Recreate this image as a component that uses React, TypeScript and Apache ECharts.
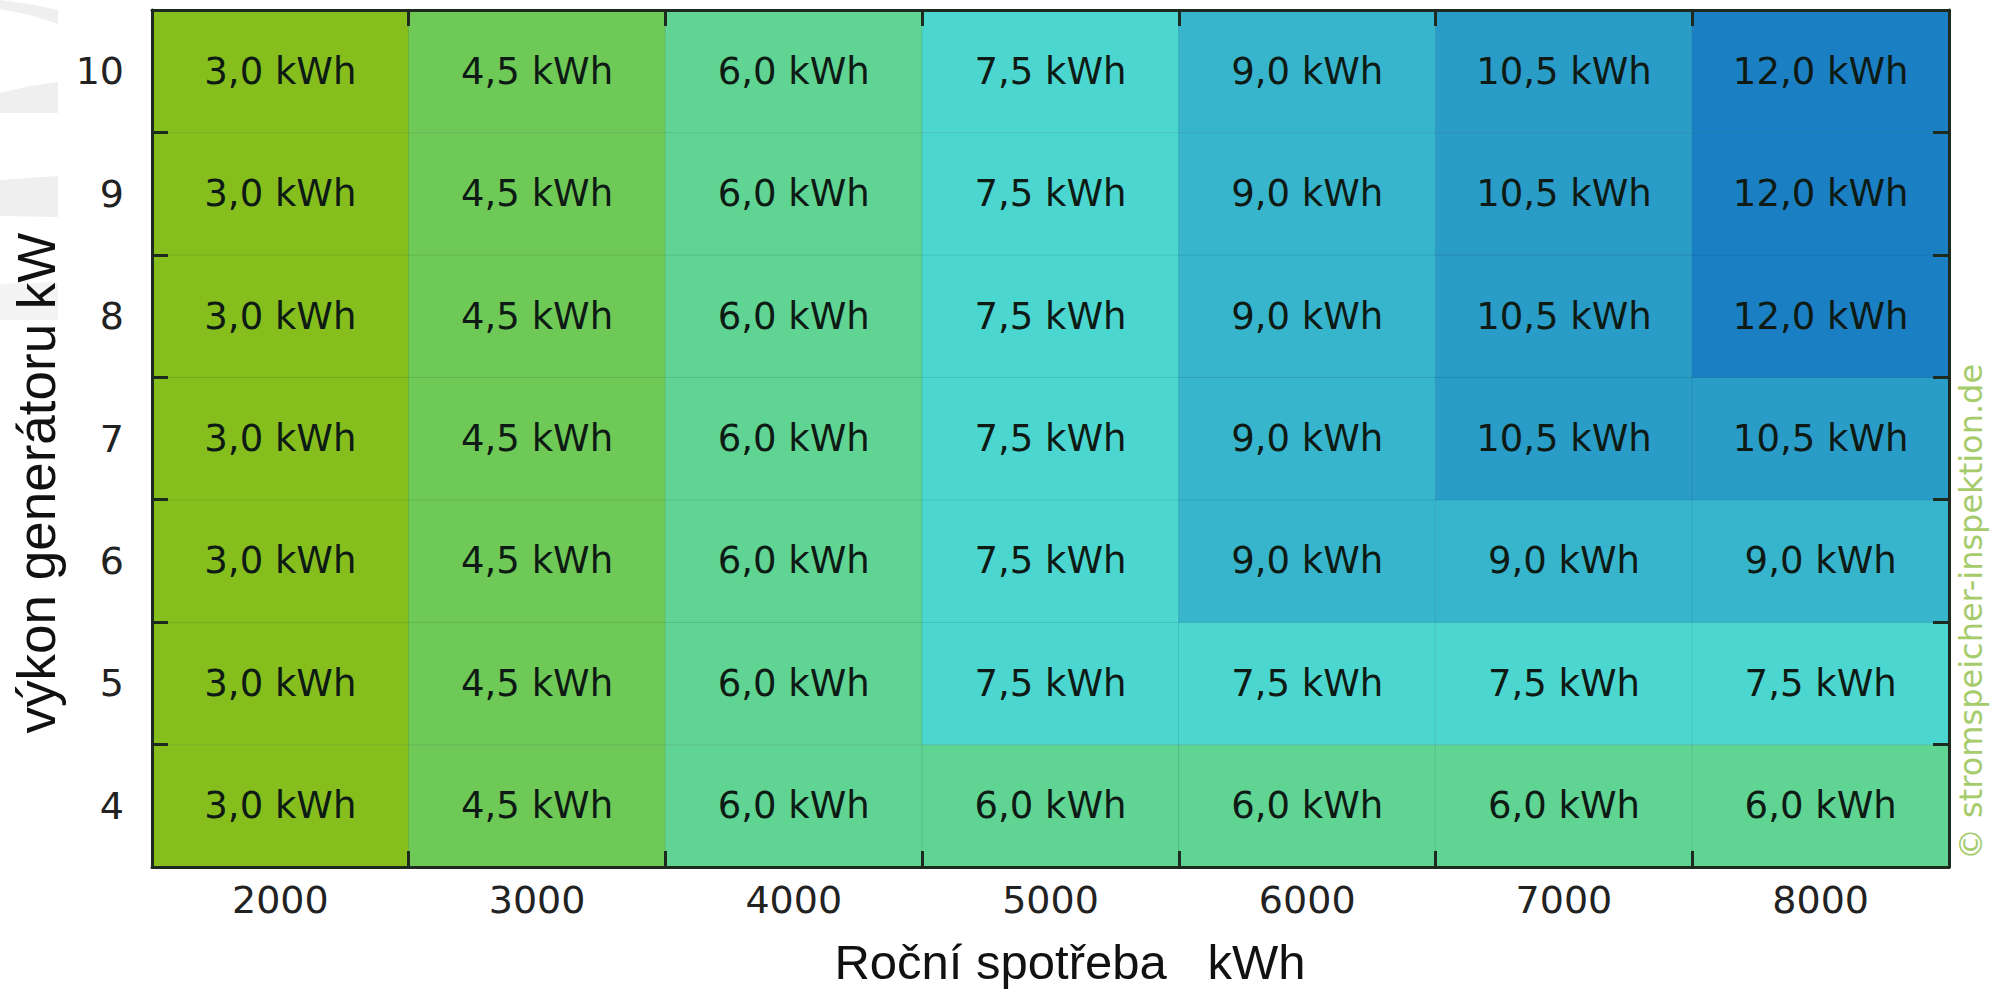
import React, { useEffect, useRef } from "react";
import * as echarts from "echarts";

// Annual consumption (kWh) columns and generator power (kW) rows
const consumption = ["2000", "3000", "4000", "5000", "6000", "7000", "8000"];
const generatorPower = ["4", "5", "6", "7", "8", "9", "10"];

// Recommended storage capacity (kWh), one array per generator power row
const row4 = [3.0, 4.5, 6.0, 6.0, 6.0, 6.0, 6.0];
const row5 = [3.0, 4.5, 6.0, 7.5, 7.5, 7.5, 7.5];
const row6 = [3.0, 4.5, 6.0, 7.5, 9.0, 9.0, 9.0];
const row7 = [3.0, 4.5, 6.0, 7.5, 9.0, 10.5, 10.5];
const row8 = [3.0, 4.5, 6.0, 7.5, 9.0, 10.5, 12.0];
const row9 = [3.0, 4.5, 6.0, 7.5, 9.0, 10.5, 12.0];
const row10 = [3.0, 4.5, 6.0, 7.5, 9.0, 10.5, 12.0];
const rows = [row4, row5, row6, row7, row8, row9, row10];

// Capacity steps and their fill colours
const capacitySteps = [3.0, 4.5, 6.0, 7.5, 9.0, 10.5, 12.0];
const stepColors = ["#86bf1d", "#6fc957", "#5fd493", "#4bd7d0", "#37b5cd", "#2a9cc8", "#1b7fc3"];

const AXIS_COLOR = "#1c2a20";
const LABEL_FONT = "DejaVu Sans, Verdana, sans-serif";

export default function App() {
  const ref = useRef<HTMLDivElement>(null);

  useEffect(() => {
    if (!ref.current) return;
    const chart = echarts.init(ref.current, undefined, { renderer: "svg" });

    const cells: [number, number, number][] = [];
    rows.forEach((row, yi) => row.forEach((v, xi) => cells.push([xi, yi, v])));

    const axisLine = { show: true, lineStyle: { color: AXIS_COLOR, width: 3 } };
    const axisTick = { show: true, inside: true, length: 16, lineStyle: { color: AXIS_COLOR, width: 3 } };

    chart.setOption({
      animation: false,
      backgroundColor: "#ffffff",
      grid: { left: 152, right: 44, top: 10, bottom: 126, containLabel: false },
      xAxis: [
        {
          type: "category",
          data: consumption,
          position: "bottom",
          z: 10,
          axisLine,
          axisTick,
          axisLabel: { color: "#222222", fontFamily: LABEL_FONT, fontSize: 38, margin: 14 },
          splitLine: { show: false },
        },
        {
          type: "category",
          data: consumption,
          position: "top",
          z: 10,
          axisLine,
          axisTick,
          axisLabel: { show: false },
          splitLine: { show: false },
        },
      ],
      yAxis: [
        {
          type: "category",
          data: generatorPower,
          position: "left",
          z: 10,
          axisLine,
          axisTick,
          axisLabel: { color: "#222222", fontFamily: LABEL_FONT, fontSize: 38, margin: 28 },
          splitLine: { show: false },
        },
        {
          type: "category",
          data: generatorPower,
          position: "right",
          z: 10,
          axisLine,
          axisTick,
          axisLabel: { show: false },
          splitLine: { show: false },
        },
      ],
      visualMap: {
        type: "piecewise",
        show: false,
        dimension: 2,
        pieces: capacitySteps.map((v, i) => ({ value: v, color: stepColors[i] })),
      },
      series: [
        {
          type: "heatmap",
          xAxisIndex: 0,
          yAxisIndex: 0,
          data: cells,
          itemStyle: { borderColor: "rgba(0,40,40,0.10)", borderWidth: 1 },
          label: {
            show: true,
            color: "#0e1a14",
            fontFamily: LABEL_FONT,
            fontSize: 37,
            formatter: (p: any) => p.value[2].toFixed(1).replace(".", ",") + " kWh",
          },
          emphasis: { disabled: true },
        },
      ],
      graphic: [
        // faint grey swooshes at the left edge
        { type: "polygon", z: -1, shape: { points: [[0, 0], [30, 4], [58, 10], [58, 24], [30, 15], [0, 9]] }, style: { fill: "#efefef" } },
        { type: "polygon", z: -1, shape: { points: [[0, 93], [30, 86], [58, 82], [58, 113], [30, 113], [0, 113]] }, style: { fill: "#efefef" } },
        { type: "polygon", z: -1, shape: { points: [[0, 180], [58, 176], [58, 217], [0, 216]] }, style: { fill: "#efefef" } },
        { type: "polygon", z: -1, shape: { points: [[0, 284], [58, 282], [58, 320], [0, 320]] }, style: { fill: "#f4f4f4" } },
        {
          type: "text",
          x: 1070,
          y: 962,
          style: {
            text: "Roční spotřeba   kWh",
            fontFamily: "Liberation Sans, Arial, sans-serif",
            fontSize: 49,
            fill: "#111111",
            align: "center",
            verticalAlign: "middle",
          },
        },
        {
          type: "text",
          x: 36,
          y: 483,
          rotation: Math.PI / 2,
          style: {
            text: "výkon generátoru kW",
            fontFamily: "Liberation Sans, Arial, sans-serif",
            fontSize: 53,
            fill: "#111111",
            align: "center",
            verticalAlign: "middle",
          },
        },
        {
          type: "text",
          x: 1971,
          y: 612,
          rotation: Math.PI / 2,
          style: {
            text: "© stromspeicher-inspektion.de",
            fontFamily: LABEL_FONT,
            fontSize: 32,
            fill: "#a5cb6b",
            align: "center",
            verticalAlign: "middle",
          },
        },
      ],
    });

    return () => chart.dispose();
  }, []);

  return (
    <div
      ref={ref}
      style={{ position: "absolute", left: 0, top: 0, width: 1993, height: 993 }}
    />
  );
}
